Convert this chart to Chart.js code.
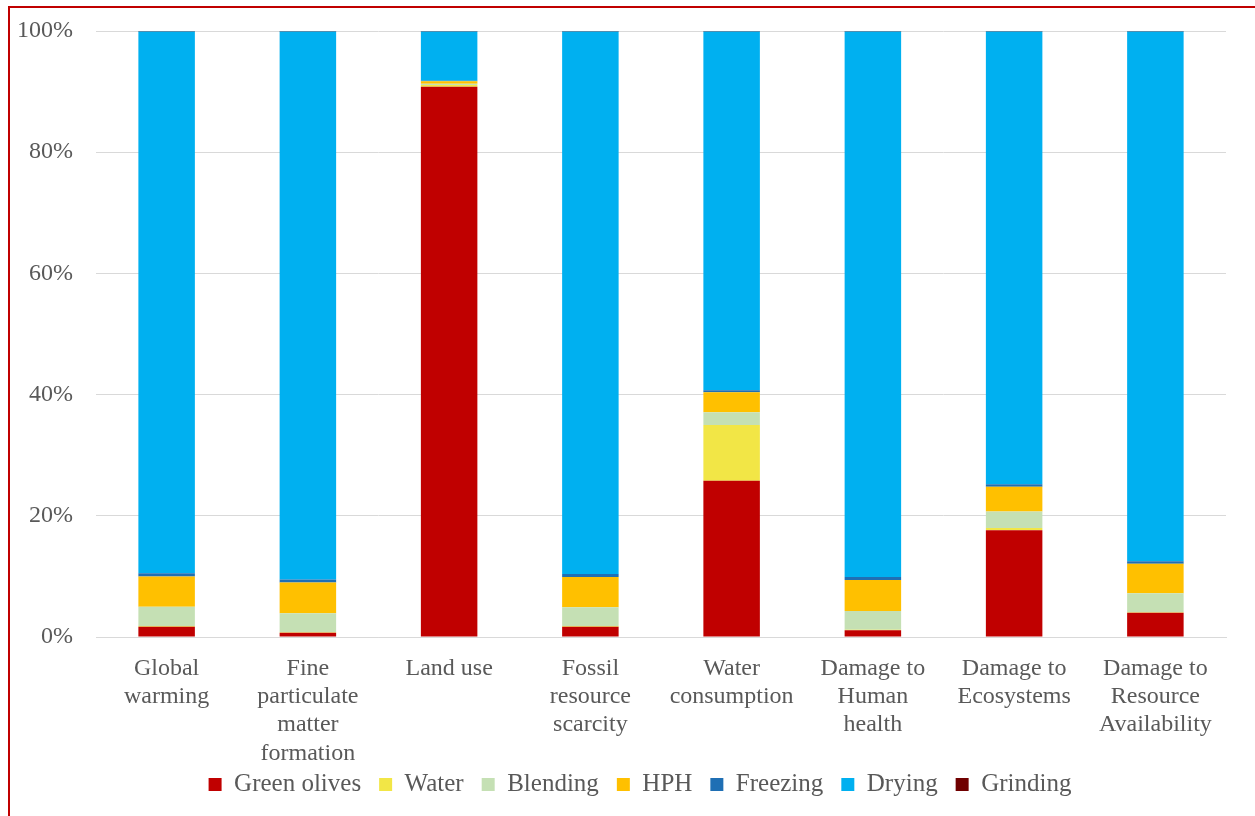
<!DOCTYPE html>
<html>
<head>
<meta charset="utf-8">
<title>Contribution by process stage</title>
<script src="https://cdn.jsdelivr.net/npm/chart.js@4.4.1/dist/chart.umd.min.js"></script>
<style>
  html, body { margin: 0; padding: 0; background: #fff; }
  #wrap { position: relative; width: 1255px; height: 816px; overflow: hidden; }
  #frame {
    position: absolute; left: 8px; top: 6px; width: 1300px; height: 900px;
    border-left: 2px solid #c00000; border-top: 2px solid #c00000;
    pointer-events: none;
  }
  canvas { position: absolute; left: 0; top: 0; }
</style>
</head>
<body>
<div id="wrap">
  <canvas id="chart" width="1255" height="816"></canvas>
  <div id="frame"></div>
</div>
<script>
// impact categories (multi-line labels)
const categories = [
  ['Global', 'warming'],
  ['Fine', 'particulate', 'matter', 'formation'],
  ['Land use'],
  ['Fossil', 'resource', 'scarcity'],
  ['Water', 'consumption'],
  ['Damage to', 'Human', 'health'],
  ['Damage to', 'Ecosystems'],
  ['Damage to', 'Resource', 'Availability']
];

// share of each stage, in %
const greenOlives = [1.7, 0.7, 90.8, 1.7, 25.8, 1.1, 17.6, 4.0];
const water       = [0.1, 0.1, 0.3, 0.1, 9.2, 0.1, 0.4, 0.1];
const blending    = [3.2, 3.1, 0.2, 3.1, 2.1, 3.1, 2.7, 3.1];
const hph         = [5.0, 5.1, 0.4, 5.0, 3.3, 5.1, 4.1, 4.9];
const freezing    = [0.5, 0.5, 0.1, 0.5, 0.3, 0.5, 0.4, 0.4];
const drying      = [89.4, 90.4, 8.1, 89.5, 59.2, 90.0, 74.7, 87.4];
const grinding    = [0.1, 0.1, 0.1, 0.1, 0.1, 0.1, 0.1, 0.1];

const yTicks = [0, 20, 40, 60, 80, 100];

const font = { family: "'Liberation Serif', 'DejaVu Serif', serif", size: 24 };
const textColor = '#595959';

function series(label, data, color) {
  return { label, data, backgroundColor: color, borderWidth: 0,
           barPercentage: 0.4, categoryPercentage: 1.0 };
}

// centre the legend on the whole page and let the 4-line category
// label run past the x axis box instead of being clipped
const tweakLayout = {
  id: 'tweakLayout',
  afterLayout(chart) {
    chart.legend.left += 22;
    chart.legend.right += 22;
    chart.scales.x.bottom += 24;
  }
};

new Chart(document.getElementById('chart'), {
  type: 'bar',
  data: {
    labels: categories,
    datasets: [
      series('Green olives', greenOlives, '#c00000'),
      series('Water', water, '#f2e646'),
      series('Blending', blending, '#c5e0b4'),
      series('HPH', hph, '#ffc000'),
      series('Freezing', freezing, '#1f6fb4'),
      series('Drying', drying, '#00b0f0'),
      series('Grinding', grinding, '#700000')
    ]
  },
  plugins: [tweakLayout],
  options: {
    responsive: false,
    animation: false,
    layout: { padding: { left: 10, right: 29, top: 31, bottom: 9 } },
    plugins: {
      tooltip: { enabled: false },
      legend: {
        position: 'bottom',
        labels: {
          boxWidth: 13, boxHeight: 13, padding: 18,
          color: textColor, font: { ...font, size: 25 }
        }
      }
    },
    scales: {
      x: {
        stacked: true,
        grid: { display: false },
        border: { color: '#d9d9d9' },
        ticks: {
          color: textColor, font: { ...font, lineHeight: 1.17 },
          maxRotation: 0, autoSkip: false, padding: 10
        },
        afterFit: (s) => { s.height = 117; }
      },
      y: {
        stacked: true,
        min: 0, max: 100,
        afterBuildTicks: (s) => { s.ticks = yTicks.map(v => ({ value: v })); },
        grid: { color: '#d9d9d9', drawTicks: false },
        border: { display: false },
        ticks: {
          color: textColor, font, padding: 23,
          callback: (v) => v + '%'
        },
        afterFit: (s) => { s.width = 86; s.paddingTop = 0; s.paddingBottom = 0; }
      }
    }
  }
});
</script>
</body>
</html>
